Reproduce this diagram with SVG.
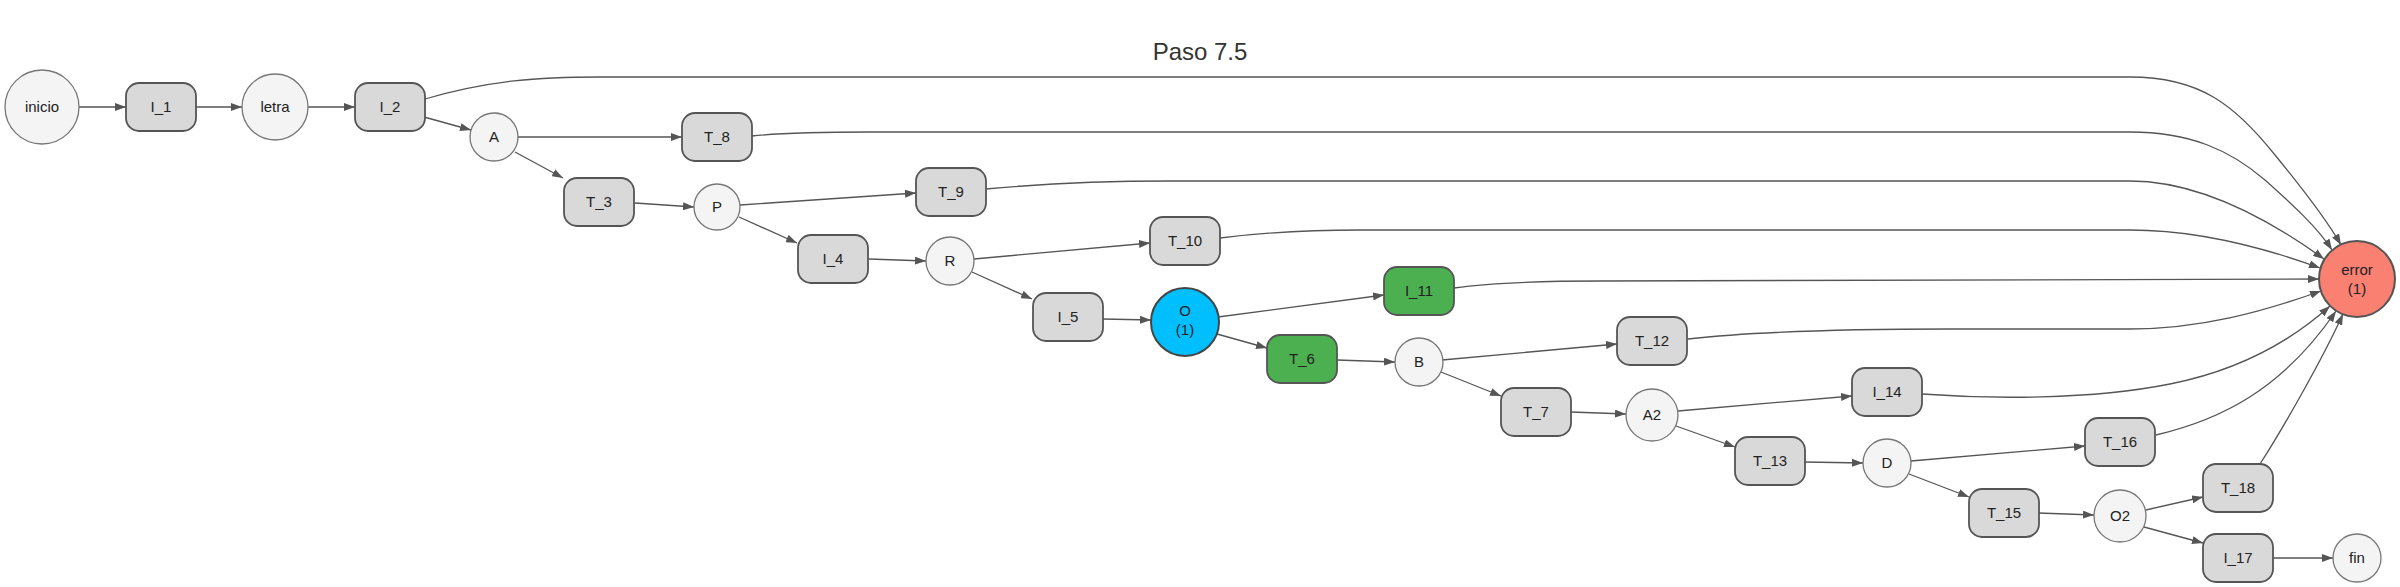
<svg xmlns="http://www.w3.org/2000/svg" width="2400" height="587" viewBox="0 0 2400 587">
<style>
text{font-family:"Liberation Sans",Arial,sans-serif;font-size:15px;fill:#222;text-anchor:middle}
.t{font-size:24px;fill:#333}
.r{fill:#d9d9d9;stroke:#555;stroke-width:1.8}
.g{fill:#4caf50;stroke:#555;stroke-width:1.8}
.c{fill:#f4f4f4;stroke:#777;stroke-width:1.3}
.b{fill:#00bfff;stroke:#444;stroke-width:2}
.e{fill:#fa8072;stroke:#555;stroke-width:2}
#edges path{fill:none;stroke:#555;stroke-width:1.3;marker-end:url(#ah)}
</style>
<defs>
<marker id="ah" markerUnits="userSpaceOnUse" markerWidth="11" markerHeight="8" refX="11" refY="4" orient="auto">
<path d="M0,0 L11,4 L0,8 z" fill="#555"/>
</marker>
</defs>
<rect width="2400" height="587" fill="#fff"/>
<text class="t" x="1200" y="60">Paso 7.5</text>
<g id="edges">
<path d="M79,107 L126,107"/>
<path d="M196,107 L242,107"/>
<path d="M308,107 L355,107"/>
<path d="M425,99 C490,80 540,77 600,77 L2130,77 C2200,77 2235,105 2275,155 C2302,188 2328,222 2341,245"/>
<path d="M424,117 L471,130"/>
<path d="M518,137 L682,137"/>
<path d="M515,152 L563,178"/>
<path d="M752,136 C780,133 820,132 870,132 L2130,132 C2190,132 2230,150 2265,180 C2293,205 2318,228 2332,250"/>
<path d="M635,203 L694,207"/>
<path d="M740,205 L916,193"/>
<path d="M739,217 L797,243"/>
<path d="M986,189 C1040,184 1100,181 1170,181 L2130,181 C2200,181 2270,220 2324,259"/>
<path d="M869,259 L926,261"/>
<path d="M974,259 L1150,243"/>
<path d="M972,272 L1032,299"/>
<path d="M1220,238 C1260,233 1300,230 1360,230 L2130,230 C2200,230 2265,248 2320,268"/>
<path d="M1103,319 L1151,320"/>
<path d="M1218,317 L1384,295"/>
<path d="M1217,334 L1267,348"/>
<path d="M1454,288 C1490,283 1530,281 1600,281 L2319,279"/>
<path d="M1337,360 L1395,362"/>
<path d="M1442,360 L1617,344"/>
<path d="M1441,372 L1501,396"/>
<path d="M1688,339 C1750,332 1850,329 1950,329 L2130,329 C2200,329 2262,312 2321,291"/>
<path d="M1571,412 L1626,414"/>
<path d="M1678,411 L1852,396"/>
<path d="M1676,426 L1735,447"/>
<path d="M1922,394 C1990,399 2090,400 2170,384 C2240,370 2290,342 2330,306"/>
<path d="M1805,462 L1863,463"/>
<path d="M1911,461 L2085,446"/>
<path d="M1909,474 L1969,497"/>
<path d="M2156,435 C2220,420 2282,390 2336,311"/>
<path d="M2038,513 L2094,515"/>
<path d="M2146,510 L2203,497"/>
<path d="M2144,527 L2203,543"/>
<path d="M2260,464 C2282,430 2322,360 2343,314"/>
<path d="M2273,558 L2333,558"/>
</g>
<g id="n_inicio"><circle class="c" cx="42" cy="107" r="37"/><text x="42" y="112">inicio</text></g>
<g id="n_I_1"><rect class="r" x="126" y="83" width="70" height="48" rx="13"/><text x="161" y="112">I_1</text></g>
<g id="n_letra"><circle class="c" cx="275" cy="107" r="33"/><text x="275" y="112">letra</text></g>
<g id="n_I_2"><rect class="r" x="355" y="83" width="70" height="48" rx="13"/><text x="390" y="112">I_2</text></g>
<g id="n_A"><circle class="c" cx="494" cy="137" r="24"/><text x="494" y="142">A</text></g>
<g id="n_T_8"><rect class="r" x="682" y="113" width="70" height="48" rx="13"/><text x="717" y="142">T_8</text></g>
<g id="n_T_3"><rect class="r" x="564" y="178" width="70" height="48" rx="13"/><text x="599" y="207">T_3</text></g>
<g id="n_P"><circle class="c" cx="717" cy="207" r="23"/><text x="717" y="212">P</text></g>
<g id="n_T_9"><rect class="r" x="916" y="168" width="70" height="48" rx="13"/><text x="951" y="197">T_9</text></g>
<g id="n_I_4"><rect class="r" x="798" y="235" width="70" height="48" rx="13"/><text x="833" y="264">I_4</text></g>
<g id="n_R"><circle class="c" cx="950" cy="261" r="24"/><text x="950" y="266">R</text></g>
<g id="n_T_10"><rect class="r" x="1150" y="217" width="70" height="48" rx="13"/><text x="1185" y="246">T_10</text></g>
<g id="n_I_5"><rect class="r" x="1033" y="293" width="70" height="48" rx="13"/><text x="1068" y="322">I_5</text></g>
<g id="n_O"><circle class="b" cx="1185" cy="322" r="34"/><text x="1185" y="316">O</text><text x="1185" y="335">(1)</text></g>
<g id="n_I_11"><rect class="g" x="1384" y="267" width="70" height="48" rx="13"/><text x="1419" y="296">I_11</text></g>
<g id="n_T_6"><rect class="g" x="1267" y="335" width="70" height="48" rx="13"/><text x="1302" y="364">T_6</text></g>
<g id="n_B"><circle class="c" cx="1419" cy="362" r="24"/><text x="1419" y="367">B</text></g>
<g id="n_T_12"><rect class="r" x="1617" y="317" width="70" height="48" rx="13"/><text x="1652" y="346">T_12</text></g>
<g id="n_T_7"><rect class="r" x="1501" y="388" width="70" height="48" rx="13"/><text x="1536" y="417">T_7</text></g>
<g id="n_A2"><circle class="c" cx="1652" cy="415" r="26"/><text x="1652" y="420">A2</text></g>
<g id="n_I_14"><rect class="r" x="1852" y="368" width="70" height="48" rx="13"/><text x="1887" y="397">I_14</text></g>
<g id="n_T_13"><rect class="r" x="1735" y="437" width="70" height="48" rx="13"/><text x="1770" y="466">T_13</text></g>
<g id="n_D"><circle class="c" cx="1887" cy="463" r="24"/><text x="1887" y="468">D</text></g>
<g id="n_T_16"><rect class="r" x="2085" y="418" width="70" height="48" rx="13"/><text x="2120" y="447">T_16</text></g>
<g id="n_T_15"><rect class="r" x="1969" y="489" width="70" height="48" rx="13"/><text x="2004" y="518">T_15</text></g>
<g id="n_O2"><circle class="c" cx="2120" cy="516" r="26"/><text x="2120" y="521">O2</text></g>
<g id="n_T_18"><rect class="r" x="2203" y="464" width="70" height="48" rx="13"/><text x="2238" y="493">T_18</text></g>
<g id="n_I_17"><rect class="r" x="2203" y="534" width="70" height="48" rx="13"/><text x="2238" y="563">I_17</text></g>
<g id="n_fin"><circle class="c" cx="2357" cy="558" r="24"/><text x="2357" y="563">fin</text></g>
<g id="n_error"><circle class="e" cx="2357" cy="279" r="38"/><text x="2357" y="275">error</text><text x="2357" y="294">(1)</text></g>
</svg>
